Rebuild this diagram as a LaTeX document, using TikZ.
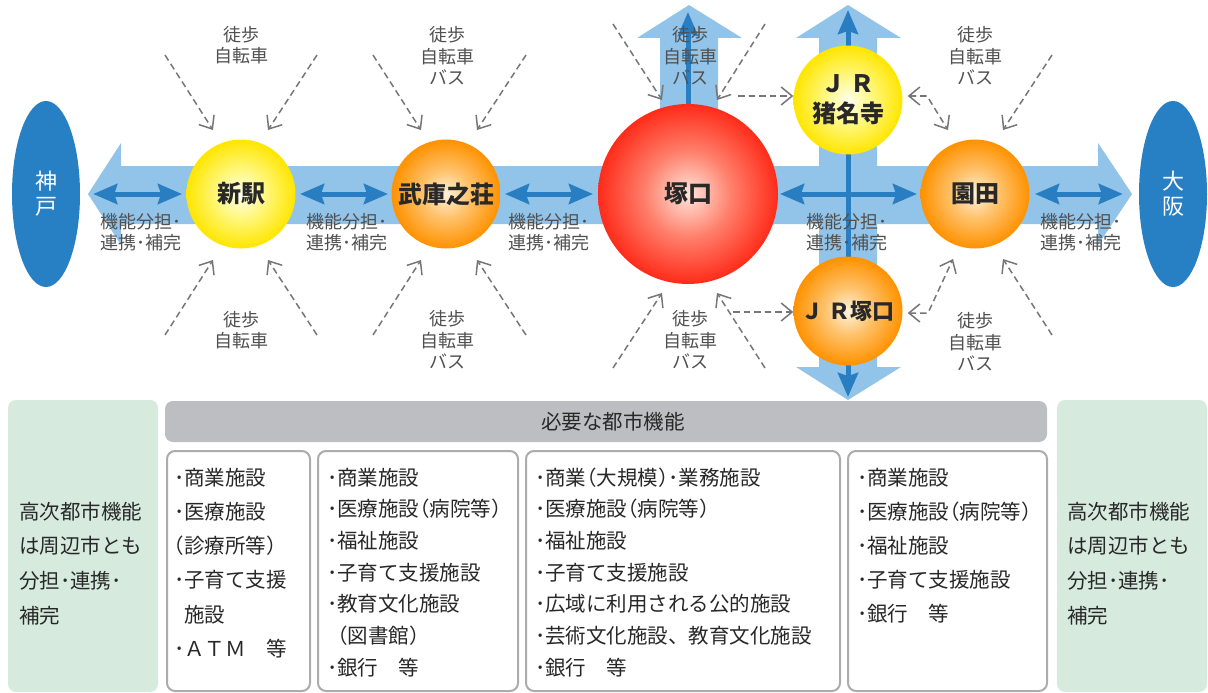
\documentclass[tikz,border=0pt]{standalone}
\usepackage{fontspec}
\setmainfont{Noto Sans CJK JP}
\usetikzlibrary{arrows.meta,shapes.geometric}
\definecolor{bandc}{RGB}{146,196,234}
\definecolor{darkb}{RGB}{40,126,193}
\definecolor{cityb}{RGB}{39,128,196}
\definecolor{dashc}{RGB}{118,118,118}
\definecolor{labc}{RGB}{80,80,80}
\definecolor{txtc}{RGB}{40,40,40}
\definecolor{boxline}{RGB}{172,172,172}
\definecolor{greenf}{RGB}{214,235,221}
\definecolor{headf}{RGB}{189,190,193}
\pgfdeclareradialshading{yelball}{\pgfpoint{0bp}{0bp}}{rgb(0bp)=(1,1,0.93); rgb(11bp)=(1,0.97,0.5); rgb(25bp)=(1,0.9,0); rgb(50bp)=(1,0.9,0)}
\pgfdeclareradialshading{orball}{\pgfpoint{0bp}{0bp}}{rgb(0bp)=(1,0.95,0.86); rgb(11bp)=(1,0.76,0.42); rgb(25bp)=(1,0.57,0); rgb(50bp)=(1,0.57,0)}
\pgfdeclareradialshading{redball}{\pgfpoint{0bp}{0bp}}{rgb(0bp)=(1,0.9,0.86); rgb(12bp)=(1,0.5,0.42); rgb(25bp)=(1,0.17,0.1); rgb(50bp)=(1,0.17,0.1)}
\newcommand{\lp}{\makebox[0.5em][r]{（}}
\newcommand{\rp}{\makebox[0.5em][l]{）}}
\begin{document}
\begin{tikzpicture}[x=1pt,y=-1pt,
  band/.style={fill=bandc},
  darr/.style={draw=darkb, line width=5pt, >={Stealth[length=24pt,width=20pt,inset=3pt]}},
  dasharr/.style={draw=dashc, line width=1.5pt, dash pattern=on 6.5pt off 4pt, >={Straight Barb[length=11pt,width=18pt]}},
  station/.style={circle, minimum size=109pt, inner sep=0pt, text=txtc, font=\fontsize{24}{30}\selectfont\bfseries, align=center},
  city/.style={ellipse, fill=cityb, minimum width=68pt, minimum height=186pt, inner sep=0pt, text=white, font=\fontsize{22}{25}\selectfont, align=center},
  lbl/.style={text=labc, font=\fontsize{18}{21.5}\selectfont, align=center, inner sep=0pt},
  listtxt/.style={text=txtc, font=\fontsize{20.5}{24}\selectfont, anchor=base west, inner sep=0pt},
  colbox/.style={draw=boxline, line width=2pt, fill=white, rounded corners=8pt},
  greenbox/.style={fill=greenf, rounded corners=8pt}
]
\useasboundingbox (0,0) rectangle (1208,693);
% bands
\fill[band] (121,166) -- (121,143) -- (88,194) -- (121,245) -- (121,224) -- (1098,224) -- (1098,245) -- (1132,194) -- (1098,143) -- (1098,166) -- cycle;
\fill[band] (819,38) -- (796,38) -- (848,5) -- (901,38) -- (877,38) -- (877,367) -- (901,367) -- (848,400) -- (796,367) -- (819,367) -- cycle;
\fill[band] (660,194) -- (660,38) -- (637,38) -- (689,5) -- (742,38) -- (718,38) -- (718,194) -- cycle;
% cities
\node[city] (kobe) at (46,194) {神\\戸};
\node[city] (osaka) at (1173,194) {大\\阪};
% station positions
\coordinate (pshin) at (241,194);
\coordinate (pmuko) at (446,194);
\coordinate (ptsuka) at (688,194);
\coordinate (psono) at (975,194);
\coordinate (pjrin) at (848,100);
\coordinate (pjrtk) at (848,311);
% dark blue arrows
\draw[darr,<->] ([xshift=13pt]kobe.east) -- ([xshift=-59pt]pshin);
\draw[darr,<->] ([xshift=59pt]pshin) -- ([xshift=-58pt]pmuko);
\draw[darr,<->] ([xshift=59pt]pmuko) -- ([xshift=-95pt]ptsuka);
\draw[darr,<->] ([xshift=92pt]ptsuka) -- ([xshift=-58pt]psono);
\draw[darr,<->] ([xshift=60pt]psono) -- ([xshift=-16pt]osaka.west);
\draw[darr,<->] ([yshift=90pt]pjrin) -- ([yshift=-86pt]pjrtk);
\draw[darr,->] ([yshift=88pt]ptsuka) -- ([yshift=182pt]ptsuka);
% stations
\node[station, shading=yelball] (shin) at (pshin) {新駅};
\node[station, shading=orball] (muko) at (pmuko) {武庫之荘};
\node[station, shading=redball, minimum size=180pt] (tsuka) at (ptsuka) {塚口};
\node[station, shading=orball] (sono) at (psono) {園田};
\node[station, shading=yelball] (jrin) at (pjrin) {Ｊ Ｒ\\猪名寺};
\node[station, shading=orball, font=\fontsize{22}{26}\selectfont\bfseries] (jrtk) at (pjrtk) {Ｊ Ｒ塚口};
% labels
\node[lbl] (k1) at (141,232) {機能分担･\\連携･補完};
\node[lbl] (k2) at (347,232) {機能分担･\\連携･補完};
\node[lbl] (k3) at (549,232) {機能分担･\\連携･補完};
\node[lbl] (k4) at (847,232) {機能分担･\\連携･補完};
\node[lbl] (k5) at (1081,232) {機能分担･\\連携･補完};
\node[lbl] (t1) at (241,45) {徒歩\\自転車};
\node[lbl] (b1) at (241,330) {徒歩\\自転車};
\node[lbl] (t2) at (447,56) {徒歩\\自転車\\バス};
\node[lbl] (b2) at (447,340) {徒歩\\自転車\\バス};
\node[lbl] (t3) at (690,56) {徒歩\\自転車\\バス};
\node[lbl] (b3) at (690,340) {徒歩\\自転車\\バス};
\node[lbl] (t4) at (975,56) {徒歩\\自転車\\バス};
\node[lbl] (b4) at (975,342) {徒歩\\自転車\\バス};
% dashed arrows
\coordinate (s1a) at (165,55);  \coordinate (e1a) at (213,130);
\coordinate (s1b) at (317,55);  \coordinate (e1b) at (268,130);
\coordinate (s1c) at (165,335); \coordinate (e1c) at (213,260);
\coordinate (s1d) at (317,335); \coordinate (e1d) at (268,260);
\coordinate (s2a) at (373,55);  \coordinate (e2a) at (421,130);
\coordinate (s2b) at (526,55);  \coordinate (e2b) at (477,130);
\coordinate (s2c) at (373,335); \coordinate (e2c) at (421,260);
\coordinate (s2d) at (526,335); \coordinate (e2d) at (477,260);
\coordinate (s3a) at (613,24);  \coordinate (e3a) at (662,100);
\coordinate (s3b) at (765,24);  \coordinate (e3b) at (717,100);
\coordinate (s3c) at (613,368); \coordinate (e3c) at (662,293);
\coordinate (s3d) at (765,368); \coordinate (e3d) at (717,293);
\coordinate (s4b) at (1052,55);  \coordinate (e4b) at (1003,130);
\coordinate (s4d) at (1052,335); \coordinate (e4d) at (1003,259);
\coordinate (h1) at (738,96);  \coordinate (h2) at (733,312);
\foreach \n in {1a,1b,1c,1d,2a,2b,2c,2d,3a,3b,3c,3d,4b,4d}
  \draw[dasharr,->] (s\n) -- (e\n);
\draw[dasharr,->] (h1) -- (jrin.west |- h1);
\draw[dasharr,->] (h2) -- (jrtk.west |- h2);
\coordinate (m1) at (927,96);  \coordinate (n1) at (948,130);
\coordinate (m2) at (928,313); \coordinate (n2) at (953,259);
\draw[dasharr,<->] ([xshift=5pt]jrin.east |- m1) -- (m1) -- (n1);
\draw[dasharr,<->] ([xshift=5pt]jrtk.east |- m2) -- (m2) -- (n2);
% bottom section
\fill[greenbox] (8,400) rectangle (158,692);
\fill[greenbox] (1057,400) rectangle (1207,692);
\node[fill=headf, rounded corners=8pt, minimum width=882pt, minimum height=41pt, inner sep=0pt] (head) at (606,421.5) {};
\node[text=txtc, font=\fontsize{20.5}{24}\selectfont, inner sep=0pt] (headtxt) at (613,422) {必要な都市機能};
\draw[colbox] (167,451) rectangle (310,691);
\draw[colbox] (318,451) rectangle (518,691);
\draw[colbox] (526,451) rectangle (840,691);
\draw[colbox] (848,451) rectangle (1047,691);
\foreach \t [count=\i] in {{･商業施設},{･医療施設},{\lp 診療所等\rp},{･子育て支援},{\phantom{･}施設},{･ＡＴＭ　等}}
  \node[listtxt, name=ca\i] at (174,{485+34.3*(\i-1)}) {\t};
\foreach \t [count=\i] in {{･商業施設},{･医療施設\lp 病院等\rp},{･福祉施設},{･子育て支援施設},{･教育文化施設},{\hspace{0.5em}\lp 図書館\rp},{･銀行　等}}
  \node[listtxt, name=cb\i] at (327,{485+31.7*(\i-1)}) {\t};
\foreach \t [count=\i] in {{･商業\lp 大規模\rp･業務施設},{･医療施設\lp 病院等\rp},{･福祉施設},{･子育て支援施設},{･広域に利用される公的施設},{･芸術文化施設、教育文化施設},{･銀行　等}}
  \node[listtxt, name=cc\i] at (535,{485+31.7*(\i-1)}) {\t};
\foreach \t [count=\i] in {{･商業施設},{･医療施設\lp 病院等\rp},{･福祉施設},{･子育て支援施設},{･銀行　等}}
  \node[listtxt, name=cd\i] at (857,{485+34*(\i-1)}) {\t};
\foreach \t [count=\i] in {{高次都市機能},{は周辺市とも},{分担･連携･},{補完}}
  \node[listtxt, name=ga\i] at (19,{519+34.7*(\i-1)}) {\t};
\foreach \t [count=\i] in {{高次都市機能},{は周辺市とも},{分担･連携･},{補完}}
  \node[listtxt, name=gb\i] at (1067,{519+34.7*(\i-1)}) {\t};
\end{tikzpicture}
\end{document}
